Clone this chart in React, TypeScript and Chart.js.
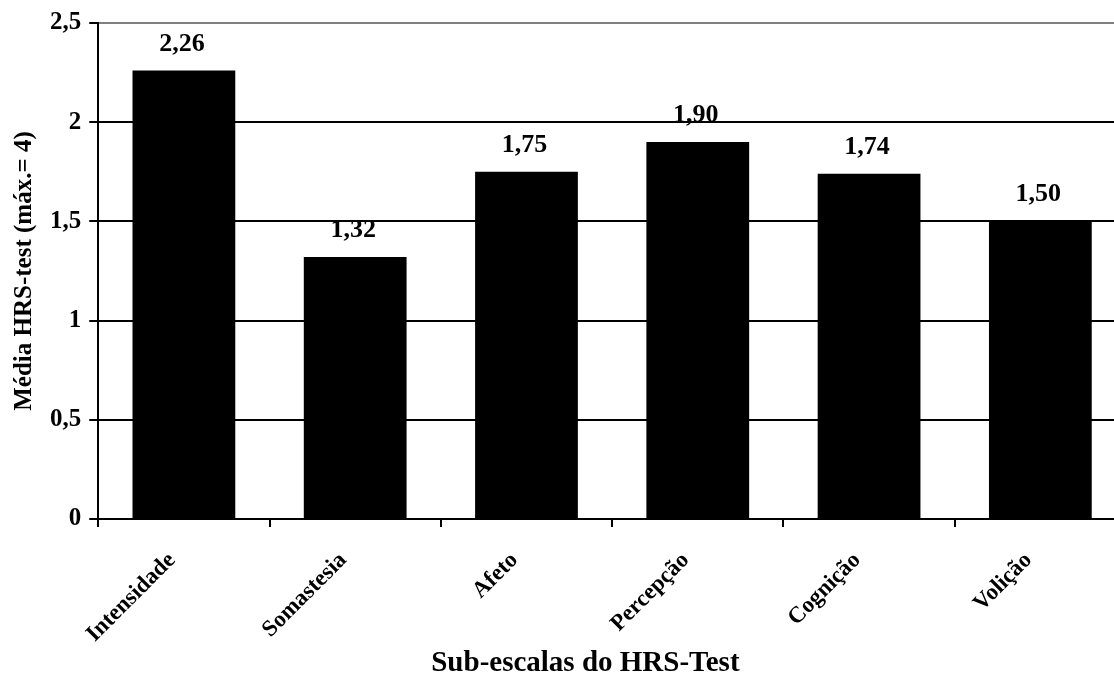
import React, { useEffect, useRef } from "react";
import { Chart, registerables } from "chart.js";

Chart.register(...registerables);

const categories = ["Intensidade", "Somastesia", "Afeto", "Percepção", "Cognição", "Volição"];
const meanScores = [2.26, 1.32, 1.75, 1.9, 1.74, 1.5];
const yTickLabels = ["0", "0,5", "1", "1,5", "2", "2,5"];
const yTitle = "Média HRS-test (máx.= 4)";
const xTitle = "Sub-escalas do HRS-Test";

const FONT = "'Liberation Serif', 'Times New Roman', serif";

const formatValue = (v: number) => v.toFixed(2).replace(".", ",");

// Value labels above each bar
const valueLabels = {
  id: "valueLabels",
  afterDatasetsDraw(chart: any) {
    const { ctx } = chart;
    const meta = chart.getDatasetMeta(0);
    ctx.save();
    ctx.font = `bold 26px ${FONT}`;
    ctx.fillStyle = "#000";
    ctx.textAlign = "center";
    ctx.textBaseline = "alphabetic";
    meta.data.forEach((bar: any, i: number) => {
      ctx.fillText(formatValue(meanScores[i]), bar.x - 2, bar.y - 20);
    });
    ctx.restore();
  },
};

// Category-axis title, drawn below the rotated labels
const xAxisTitle = {
  id: "xAxisTitle",
  afterDraw(chart: any) {
    const { ctx, chartArea } = chart;
    ctx.save();
    ctx.font = `bold 29px ${FONT}`;
    ctx.fillStyle = "#000";
    ctx.textAlign = "center";
    ctx.textBaseline = "alphabetic";
    const cx = chartArea.left + (chartArea.right - chartArea.left) * 0.474;
    ctx.fillText(xTitle, cx, 671);
    ctx.restore();
  },
};

export default function App() {
  const canvasRef = useRef<HTMLCanvasElement | null>(null);

  useEffect(() => {
    if (!canvasRef.current) return;
    const chart = new Chart(canvasRef.current, {
      type: "bar",
      data: {
        labels: categories,
        datasets: [
          {
            data: meanScores,
            backgroundColor: "#000",
            borderWidth: 0,
            barPercentage: 0.6,
            categoryPercentage: 1,
          },
        ],
      },
      options: {
        responsive: false,
        animation: false,
        layout: { padding: { top: 14, right: 14, bottom: 0, left: 10 } },
        plugins: {
          legend: { display: false },
          tooltip: { enabled: false },
        },
        scales: {
          x: {
            offset: true,
            // fixed band below the plot for the slanted labels and the title
            afterFit: (scale: any) => {
              scale.height = 156;
            },
            grid: {
              display: true,
              drawOnChartArea: false,
              offset: true,
              color: "#000",
              lineWidth: 2,
              tickLength: 8,
            },
            border: { color: "#000", width: 2 },
            ticks: {
              color: "#000",
              font: { family: FONT, weight: "bold", size: 23 },
              minRotation: 45,
              maxRotation: 45,
              padding: 20,
              labelOffset: -12,
            },
          },
          y: {
            min: 0,
            max: 2.5,
            ticks: {
              stepSize: 0.5,
              color: "#000",
              font: { family: FONT, weight: "bold", size: 25 },
              padding: 8,
              callback: (_v: any, i: number) => yTickLabels[i],
            },
            grid: {
              color: (c: any) => (c.tick && c.tick.value === 2.5 ? "#808080" : "#000"),
              lineWidth: 2,
              tickLength: 9,
              tickColor: "#000",
            },
            border: { color: "#000", width: 2 },
            title: {
              display: true,
              text: yTitle,
              color: "#000",
              font: { family: FONT, weight: "bold", size: 25 },
              padding: { top: 0, bottom: 2 },
            },
          },
        },
      },
      plugins: [valueLabels, xAxisTitle],
    });
    return () => chart.destroy();
  }, []);

  return (
    <div
      style={{
        position: "fixed",
        left: 0,
        top: 0,
        width: 1114,
        height: 675,
        overflow: "hidden",
        background: "#fff",
      }}
    >
      <canvas ref={canvasRef} width={1140} height={675} style={{ display: "block" }} />
    </div>
  );
}
